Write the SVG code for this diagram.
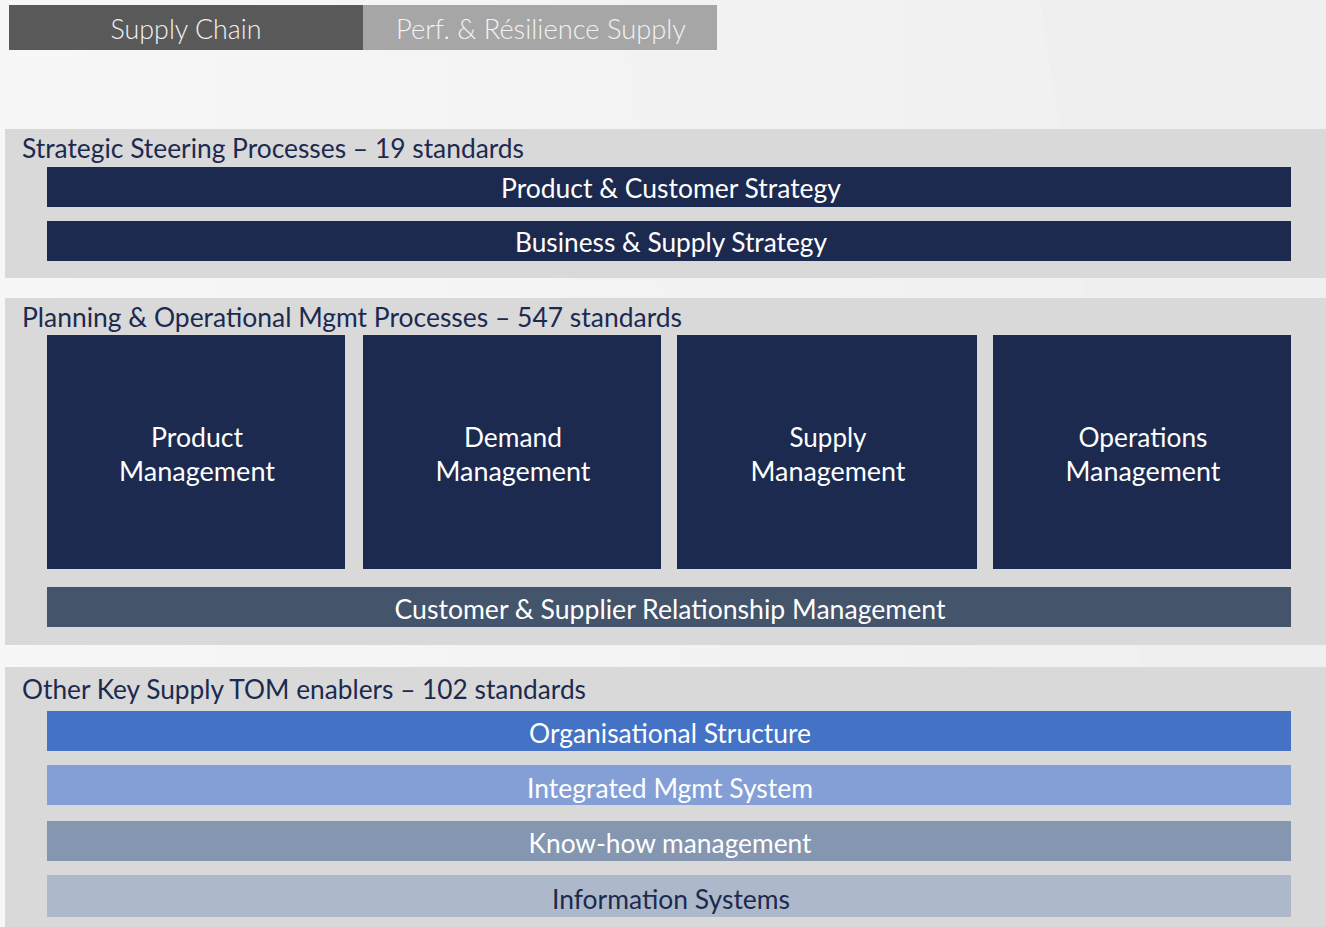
<svg xmlns="http://www.w3.org/2000/svg" width="1326" height="927" viewBox="0 0 1326 927">
<style>
  text { font-family: Lato, "Open Sans", "Liberation Sans", sans-serif; font-size: 27px; }
  .tabt { fill: #f2f2f2; text-anchor: middle; font-weight: 300; }
  .hdr { fill: #1c2a4f; }
  .bt { fill: #ffffff; text-anchor: middle; }
  .dt { fill: #1c2a4f; text-anchor: middle; }
  .panel { fill: #d9d9d9; }
  .navy { fill: #1c2a4f; }
</style>
<defs>
  <linearGradient id="bg" x1="0" y1="0" x2="1" y2="0">
    <stop offset="0" stop-color="#f7f7f7"/>
    <stop offset="1" stop-color="#efefef"/>
  </linearGradient>
</defs>
<rect x="0" y="0" width="1326" height="927" fill="url(#bg)"/>
<polygon points="620,0 1040,0 1180,927 760,927" fill="#f1f1f1" opacity="0.6"/>
<polygon points="1040,0 1326,0 1326,927 1180,927" fill="#eeeeee" opacity="0.6"/>

<g id="tab-supply-chain">
  <rect x="9" y="5" width="354" height="45" fill="#595959"/>
  <text class="tabt" x="186" y="39" textLength="151" lengthAdjust="spacingAndGlyphs">Supply Chain</text>
</g>
<g id="tab-perf">
  <rect x="363" y="5" width="354" height="45" fill="#a6a6a6"/>
  <text class="tabt" x="541" y="39" textLength="290" lengthAdjust="spacingAndGlyphs">Perf. &amp; Résilience Supply</text>
</g>

<g id="panel-strategic">
  <rect class="panel" x="5" y="129" width="1321" height="149"/>
  <text class="hdr" x="22" y="158" textLength="502" lengthAdjust="spacingAndGlyphs">Strategic Steering Processes – 19 standards</text>
</g>
<g id="node-product-customer-strategy">
  <rect class="navy" x="47" y="167" width="1244" height="40"/>
  <text class="bt" x="671" y="198" textLength="340" lengthAdjust="spacingAndGlyphs">Product &amp; Customer Strategy</text>
</g>
<g id="node-business-supply-strategy">
  <rect class="navy" x="47" y="221" width="1244" height="40"/>
  <text class="bt" x="671" y="252" textLength="312" lengthAdjust="spacingAndGlyphs">Business &amp; Supply Strategy</text>
</g>

<g id="panel-planning">
  <rect class="panel" x="5" y="298" width="1321" height="347"/>
  <text class="hdr" x="22" y="327" textLength="660" lengthAdjust="spacingAndGlyphs">Planning &amp; Operational Mgmt Processes – 547 standards</text>
</g>
<g id="node-product-management">
  <rect class="navy" x="47" y="335" width="298" height="234"/>
  <text class="bt" x="197" y="447" textLength="92" lengthAdjust="spacingAndGlyphs">Product</text>
  <text class="bt" x="197" y="481" textLength="156" lengthAdjust="spacingAndGlyphs">Management</text>
</g>
<g id="node-demand-management">
  <rect class="navy" x="363" y="335" width="298" height="234"/>
  <text class="bt" x="513" y="447" textLength="98" lengthAdjust="spacingAndGlyphs">Demand</text>
  <text class="bt" x="513" y="481" textLength="155" lengthAdjust="spacingAndGlyphs">Management</text>
</g>
<g id="node-supply-management">
  <rect class="navy" x="677" y="335" width="300" height="234"/>
  <text class="bt" x="828" y="447" textLength="77" lengthAdjust="spacingAndGlyphs">Supply</text>
  <text class="bt" x="828" y="481" textLength="155" lengthAdjust="spacingAndGlyphs">Management</text>
</g>
<g id="node-operations-management">
  <rect class="navy" x="993" y="335" width="298" height="234"/>
  <text class="bt" x="1143" y="447" textLength="129" lengthAdjust="spacingAndGlyphs">Operations</text>
  <text class="bt" x="1143" y="481" textLength="155" lengthAdjust="spacingAndGlyphs">Management</text>
</g>
<g id="node-csrm">
  <rect x="47" y="587" width="1244" height="40" fill="#44546a"/>
  <text class="bt" x="670" y="619" textLength="551" lengthAdjust="spacingAndGlyphs">Customer &amp; Supplier Relationship Management</text>
</g>

<g id="panel-enablers">
  <rect class="panel" x="5" y="667" width="1321" height="260"/>
  <text class="hdr" x="22" y="699" textLength="564" lengthAdjust="spacingAndGlyphs">Other Key Supply TOM enablers – 102 standards</text>
</g>
<g id="node-organisational-structure">
  <rect x="47" y="711" width="1244" height="40" fill="#4472c4"/>
  <text class="bt" x="670" y="743" textLength="282" lengthAdjust="spacingAndGlyphs">Organisational Structure</text>
</g>
<g id="node-integrated-mgmt-system">
  <rect x="47" y="765" width="1244" height="40" fill="#849fd6"/>
  <text class="bt" x="670" y="798" textLength="286" lengthAdjust="spacingAndGlyphs">Integrated Mgmt System</text>
</g>
<g id="node-know-how">
  <rect x="47" y="821" width="1244" height="40" fill="#8496b0"/>
  <text class="bt" x="670" y="853" textLength="283" lengthAdjust="spacingAndGlyphs">Know-how management</text>
</g>
<g id="node-information-systems">
  <rect x="47" y="875" width="1244" height="42" fill="#adb9ca"/>
  <text class="dt" x="671" y="909" textLength="238" lengthAdjust="spacingAndGlyphs">Information Systems</text>
</g>

<g id="connectors"></g>
</svg>
